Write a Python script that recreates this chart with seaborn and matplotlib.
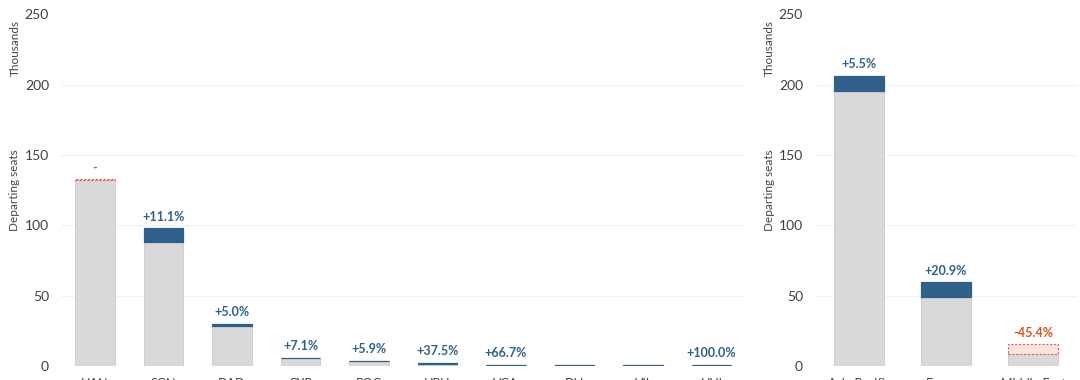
import matplotlib
matplotlib.use("Agg")
import matplotlib.pyplot as plt
import seaborn as sns
import numpy as np
import pandas as pd

# ---- data (thousands of departing seats) ----
airports = ["HAN", "SGN", "DAD", "CXR", "PQC", "HPH", "VCA", "DLI", "VII", "HUI"]
airport_prev = [133.0, 88.3, 28.5, 5.6, 3.4, 1.6, 0.6, 0.0, 0.0, 0.4]
airport_cur = [132.6, 98.1, 29.9, 6.0, 3.6, 2.2, 1.0, 1.0, 1.0, 0.8]
airport_labels = ["-", "+11.1%", "+5.0%", "+7.1%", "+5.9%", "+37.5%", "+66.7%", "", "", "+100.0%"]

regions = ["Asia Pacific", "Europe", "Middle East"]
region_prev = [195.6, 49.2, 15.3]
region_cur = [206.4, 59.5, 8.35]
region_labels = ["+5.5%", "+20.9%", "-45.4%"]

yticks = [0, 50, 100, 150, 200, 250]

GRAY = "#d9d9d9"
GRAY_EDGE = "#c9c9c9"
BLUE = "#2f6089"
PINK = "#fbe4e1"
RED = "#e0604a"
LABEL_BLUE = "#2f6089"
LABEL_RED = "#d9531e"

sns.set_theme(style="white")
plt.rcParams["font.family"] = ["Lato", "DejaVu Sans"]

fig = plt.figure(figsize=(10.8, 3.8), dpi=100)
ax1 = fig.add_axes([60.75 / 1080, 14 / 380, 685 / 1080, 351.5 / 380])
ax2 = fig.add_axes([815.5 / 1080, 14 / 380, 261 / 1080, 351.5 / 380])


def draw(ax, cats, prev, cur, labels, width, tick_pad):
    prev = np.array(prev)
    cur = np.array(cur)
    base = np.minimum(prev, cur)
    inc = np.where(cur > prev, cur - prev, 0.0)
    dec = np.where(cur < prev, prev - cur, 0.0)
    top = np.maximum(prev, cur)
    up = cur >= prev
    df = pd.DataFrame({"cat": cats, "base": base, "inc": inc, "dec": dec})
    n = len(cats)

    # gray base (the smaller of the two years)
    sns.barplot(data=df, x="cat", y="base", color=GRAY, width=width, ax=ax,
                saturation=1, linewidth=0.6, edgecolor=GRAY_EDGE, zorder=2)
    # growth segment stacked on top
    sns.barplot(data=df, x="cat", y="inc", color=BLUE, width=width, ax=ax,
                saturation=1, linewidth=0.9, edgecolor=BLUE, zorder=3,
                bottom=df["base"].to_numpy())
    k = len(ax.patches)
    for p, v in zip(ax.patches[k - n:], inc):
        if v <= 0:
            p.set_visible(False)
    # lost segment (dashed outline)
    sns.barplot(data=df, x="cat", y="dec", color=PINK, width=width, ax=ax,
                saturation=1, linewidth=0.8, edgecolor=RED, zorder=3,
                bottom=df["base"].to_numpy())
    k = len(ax.patches)
    for p, v in zip(ax.patches[k - n:], dec):
        if v <= 0:
            p.set_visible(False)
        else:
            p.set_linestyle((0, (2, 1.5)))

    for i, (lab, u, t) in enumerate(zip(labels, up, top)):
        if lab:
            ax.annotate(lab, xy=(i, t), xytext=(0, 4), textcoords="offset points",
                        ha="center", va="bottom", fontsize=9, fontweight="bold",
                        color=LABEL_BLUE if u else LABEL_RED)
    ax.set_ylim(0, 250)
    ax.set_xlim(-0.5, n - 0.5)
    ax.set_yticks(yticks)
    ax.set_yticklabels([str(v) for v in yticks], fontsize=10, color="#404040")
    ax.tick_params(axis="y", length=0, pad=tick_pad)
    ax.tick_params(axis="x", length=0, pad=8.8, labelsize=9, labelcolor="#404040")
    for s in ax.spines.values():
        s.set_visible(False)
    ax.grid(False)
    for v in yticks[1:]:
        ax.axhline(v, color="#f2f2f2", lw=0.8, zorder=0)
    ax.axhline(0, color="#e2e2e2", lw=0.9, zorder=1)
    ax.set_xlabel("")
    ax.set_ylabel("Departing seats", fontsize=8.5, color="#444444")
    ax.text(0, 0.985, "Thousands", transform=ax.transAxes,
            rotation=90, ha="center", va="top", fontsize=8.5, color="#444444")


draw(ax1, airports, airport_prev, airport_cur, airport_labels, 0.58, 8.5)
draw(ax2, regions, region_prev, region_cur, region_labels, 0.575, 9)

ax1.yaxis.set_label_coords(-40.75 / 685, 0.5)
ax2.yaxis.set_label_coords(-40.5 / 261, 0.5)
ax1.texts[-1].set_position((-45.0 / 685, 0.985))
ax2.texts[-1].set_position((-46.0 / 261, 0.985))

fig.savefig("out.png", dpi=100)
